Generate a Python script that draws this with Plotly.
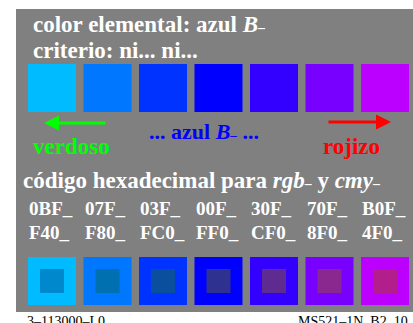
"""Colour chart: elementary blue B_ with hex codes for rgb_ and cmy_."""

import plotly.graph_objects as go

# data
outer_colors = ["#00BBFF", "#0077FF", "#0033FF", "#0000FF", "#3300FF", "#7700FF", "#BB00FF"]
inner_colors = ["#0088CC", "#0070B0", "#0A4E9E", "#2E3190", "#5E2C90", "#8A2890", "#B21E8C"]
rgb_codes = ["0BF_", "07F_", "03F_", "00F_", "30F_", "70F_", "B0F_"]
cmy_codes = ["F40_", "F80_", "FC0_", "FF0_", "CF0_", "8F0_", "4F0_"]

W, H = 413, 323
FONT = "Liberation Serif"
X0, STEP, SIZE = 28, 55.5, 48

fig = go.Figure()

shapes = [dict(type="rect", x0=16, x1=413, y0=9, y1=312, fillcolor="#808080",
               line_width=0, layer="below")]

for i, (oc, ic) in enumerate(zip(outer_colors, inner_colors)):
    left = X0 + i * STEP
    # top row of plain squares
    shapes.append(dict(type="rect", x0=left, x1=left + SIZE, y0=64, y1=112,
                       fillcolor=oc, line_width=0))
    # bottom row with centred inner square
    shapes.append(dict(type="rect", x0=left, x1=left + SIZE, y0=257, y1=305,
                       fillcolor=oc, line_width=0))
    shapes.append(dict(type="rect", x0=left + 12, x1=left + 36, y0=269, y1=293,
                       fillcolor=ic, line_width=0))

annotations = []


def txt(x, y, text, size, color="white", anchor="left"):
    annotations.append(dict(x=x, y=y, text=text, showarrow=False, xanchor=anchor,
                            yanchor="middle", font=dict(family=FONT, size=size, color=color)))


dash = "<span style='font-size:60%'>–</span>"
txt(31, 24, f"<b>color elemental: azul <i>B</i>{dash}</b>", 23)
txt(31, 50, "<b>criterio: ni... ni...</b>", 23)
txt(147, 131, f"<b>... azul <i>B</i>{dash} ...</b>", 22, color="#0000FF")
txt(71, 146, "<b>verdoso</b>", 23, color="#00FF00", anchor="center")
txt(351, 146, "<b>rojizo</b>", 23, color="#FF0000", anchor="center")
txt(21, 180, f"<b>código hexadecimal para <i>rgb</i>{dash} y <i>cmy</i>{dash}</b>", 23)

for i, (a, b) in enumerate(zip(rgb_codes, cmy_codes)):
    left = X0 + i * STEP
    txt(left - 1, 208, f"<b>{a}</b>", 19)
    txt(left - 1, 232, f"<b>{b}</b>", 19)

# arrows
annotations.append(dict(x=44, y=123, ax=107, ay=123, axref="x", ayref="y", xref="x", yref="y",
                        text="", showarrow=True, arrowhead=2, arrowsize=1, arrowwidth=3,
                        arrowcolor="#00FF00"))
annotations.append(dict(x=391, y=122, ax=327, ay=122, axref="x", ayref="y", xref="x", yref="y",
                        text="", showarrow=True, arrowhead=2, arrowsize=1, arrowwidth=3,
                        arrowcolor="#FF0000"))

# footer
annotations.append(dict(x=25, y=323, text="3–113000–L0", showarrow=False, xanchor="left",
                        yanchor="bottom", yshift=-8,
                        font=dict(family=FONT, size=14, color="black")))
annotations.append(dict(x=410, y=323, text="MS521–1N_B2_10", showarrow=False, xanchor="right",
                        yanchor="bottom", yshift=-8,
                        font=dict(family=FONT, size=14, color="black")))

fig.update_layout(
    width=W, height=H,
    margin=dict(l=0, r=0, t=0, b=0),
    paper_bgcolor="white", plot_bgcolor="white",
    xaxis=dict(range=[0, W], visible=False, fixedrange=True),
    yaxis=dict(range=[H, 0], visible=False, fixedrange=True),
    shapes=shapes, annotations=annotations,
    showlegend=False,
)

fig.write_html("out.html", config={"displayModeBar": False},
               post_script="document.body.style.margin='0';")
